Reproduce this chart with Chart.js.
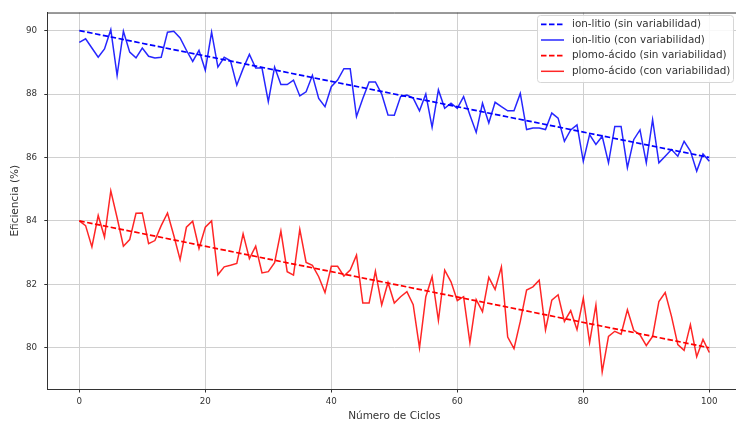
<!DOCTYPE html>
<html>
<head>
<meta charset="utf-8">
<script src="https://cdn.jsdelivr.net/npm/chart.js@4.4.1/dist/chart.umd.min.js"></script>
<style>
html,body{margin:0;padding:0;overflow:hidden;background:#fff;}
canvas{display:block;}
</style>
</head>
<body>
<canvas id="c" width="745" height="422"></canvas>
<script>
const cycles = Array.from({length: 101}, (_, i) => i);
const xTicks = [0, 20, 40, 60, 80, 100];
const yTicks = [80, 82, 84, 86, 88, 90];

const ionSinX = [0, 100];
const ionSin = [90, 86];
const plomoSinX = [0, 100];
const plomoSin = [84, 80];

const ionCon = [
89.63,89.74,89.45,89.16,89.42,90.03,88.59,89.98,89.32,89.14,
89.45,89.19,89.14,89.16,89.95,89.98,89.77,89.38,89.03,89.38,
88.75,89.95,88.85,89.16,89.05,88.28,88.80,89.25,88.82,88.82,
87.76,88.85,88.30,88.30,88.44,87.94,88.07,88.59,87.86,87.60,
88.23,88.44,88.80,88.80,87.29,87.86,88.38,88.38,88.00,87.34,
87.33,87.92,87.97,87.87,87.47,88.00,86.95,88.13,87.55,87.71,
87.55,87.92,87.34,86.79,87.71,87.09,87.74,87.60,87.47,87.47,
88.02,86.88,86.93,86.93,86.88,87.40,87.24,86.51,86.87,87.03,
85.88,86.72,86.41,86.67,85.83,86.98,86.98,85.68,86.56,86.87,
85.83,87.19,85.83,86.04,86.25,86.04,86.51,86.20,85.57,86.11,
85.88
];

const plomoCon = [
84.00,83.85,83.18,84.17,83.49,84.95,84.10,83.20,83.41,84.24,
84.25,83.28,83.38,83.85,84.25,83.54,82.78,83.80,83.99,83.13,
83.80,84.00,82.30,82.55,82.60,82.66,83.59,82.81,83.20,82.36,
82.40,82.68,83.68,82.40,82.29,83.73,82.69,82.60,82.24,81.74,
82.57,82.57,82.26,82.45,82.92,81.41,81.41,82.41,81.35,82.06,
81.41,81.61,81.77,81.36,80.00,81.61,82.24,80.86,82.45,82.08,
81.49,81.61,80.16,81.52,81.14,82.22,81.84,82.55,80.34,79.97,
80.83,81.82,81.92,82.13,80.56,81.50,81.67,80.83,81.17,80.57,
81.56,80.16,81.35,79.24,80.36,80.52,80.43,81.20,80.55,80.41,
80.07,80.36,81.46,81.74,80.99,80.10,79.92,80.73,79.72,80.26,
79.85
];

const labels = [
  'ion-litio (sin variabilidad)',
  'ion-litio (con variabilidad)',
  'plomo-ácido (sin variabilidad)',
  'plomo-ácido (con variabilidad)'
];

const toXY = (xs, ys) => ys.map((y, i) => ({x: xs[i], y: y}));

const FONT = '"DejaVu Sans", sans-serif';

const frame = {
  id: 'frame',
  afterDatasetsDraw(chart) {
    const {ctx, chartArea: a} = chart;
    ctx.save();
    ctx.strokeStyle = '#333';
    ctx.lineWidth = 1;
    ctx.beginPath();
    ctx.moveTo(a.left, a.top + 0.5);
    ctx.lineTo(a.right, a.top + 0.5);
    ctx.moveTo(a.right - 0.5, a.top);
    ctx.lineTo(a.right - 0.5, a.bottom);
    ctx.stroke();
    ctx.restore();
  },
  afterDraw(chart) {
    const {ctx} = chart;
    const bx = 537, by = 15, bw = 196, bh = 67;
    ctx.save();
    ctx.fillStyle = 'rgba(255,255,255,0.85)';
    ctx.strokeStyle = '#d6d6d6';
    ctx.lineWidth = 1;
    ctx.beginPath();
    if (ctx.roundRect) ctx.roundRect(bx + 0.5, by + 0.5, bw, bh, 3); else ctx.rect(bx + 0.5, by + 0.5, bw, bh);
    ctx.fill();
    ctx.stroke();
    const rows = [24.3, 40, 55.7, 71.3];
    chart.data.datasets.forEach((ds, i) => {
      const y = rows[i];
      ctx.strokeStyle = ds.borderColor;
      ctx.lineWidth = ds.borderWidth;
      ctx.setLineDash(ds.borderDash || []);
      ctx.beginPath();
      ctx.moveTo(541, y);
      ctx.lineTo(564, y);
      ctx.stroke();
      ctx.setLineDash([]);
      ctx.fillStyle = '#333';
      ctx.font = '10.4px ' + FONT;
      ctx.textBaseline = 'middle';
      ctx.textAlign = 'left';
      ctx.fillText(ds.label, 572, y);
    });
    ctx.restore();
  }
};

new Chart(document.getElementById('c'), {
  type: 'line',
  data: {
    datasets: [
      {label: labels[0], data: toXY(ionSinX, ionSin), borderColor: '#0000ff', borderWidth: 1.7, borderDash: [5.5, 2.5], pointRadius: 0, fill: false},
      {label: labels[1], data: toXY(cycles, ionCon), borderColor: 'rgba(0,0,255,0.85)', borderWidth: 1.5, pointRadius: 0, fill: false},
      {label: labels[2], data: toXY(plomoSinX, plomoSin), borderColor: '#ff0000', borderWidth: 1.7, borderDash: [5.5, 2.5], pointRadius: 0, fill: false},
      {label: labels[3], data: toXY(cycles, plomoCon), borderColor: 'rgba(255,0,0,0.85)', borderWidth: 1.5, pointRadius: 0, fill: false}
    ]
  },
  options: {
    responsive: false,
    animation: false,
    devicePixelRatio: 1,
    layout: {padding: {top: 10, right: 4.2, left: 0, bottom: 0}},
    plugins: {legend: {display: false}, tooltip: {enabled: false}},
    elements: {line: {tension: 0}},
    scales: {
      x: {
        type: 'linear',
        min: -5, max: 105,
        afterFit(s) { s.height = 33; },
        afterBuildTicks(s) { s.ticks = xTicks.map(v => ({value: v})); },
        grid: {color: '#d0d0d0', lineWidth: 1, drawTicks: true, tickLength: 3.5, tickColor: '#333'},
        border: {display: true, color: '#333', width: 1},
        ticks: {font: {family: FONT, size: 8.7}, color: '#333', padding: 4.5, maxRotation: 0},
        title: {display: true, text: 'Número de Ciclos', font: {family: FONT, size: 10.5, lineHeight: 1}, color: '#333', padding: {top: 0, bottom: 0}}
      },
      y: {
        type: 'linear',
        min: 78.7, max: 90.57,
        afterFit(s) { s.width = 47.8; },
        afterBuildTicks(s) { s.ticks = yTicks.map(v => ({value: v})); },
        grid: {color: '#d0d0d0', lineWidth: 1, drawTicks: true, tickLength: 3.5, tickColor: '#333'},
        border: {display: true, color: '#333', width: 1},
        ticks: {font: {family: FONT, size: 8.7}, color: '#333', padding: 7.3},
        title: {display: true, text: 'Eficiencia (%)', font: {family: FONT, size: 10.5, lineHeight: 1}, color: '#333', padding: {top: 9.7, bottom: 0}}
      }
    }
  },
  plugins: [frame]
});
</script>
</body>
</html>
